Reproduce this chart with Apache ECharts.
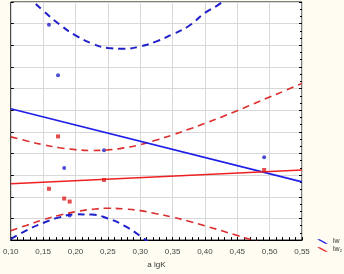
<!DOCTYPE html>
<html>
<head>
<meta charset="utf-8">
<script src="https://cdn.jsdelivr.net/npm/echarts@6/dist/echarts.min.js"></script>
<style>html,body{margin:0;padding:0;background:#fffdf2;}#c{width:344px;height:274px;}</style>
</head>
<body>
<div id="c"></div>
<script>
// observed points (x = a lgK, y in plot grid units)
const xVals = [0.159, 0.173, 0.1825, 0.191, 0.244, 0.4915];
const lwPts = [9.95, 7.62, 3.33, 1.14, 4.15, 3.83];
const lw2Pts = [2.37, 4.79, 1.92, 1.78, 2.78, 3.24];
// regression lines (end points)
const fitX = [0.10, 0.55];
const lwFit = [6.07, 2.69];
const lw2Fit = [2.60, 3.24];
// confidence bands
const bandX = [0.10,0.125,0.15,0.175,0.20,0.225,0.25,0.275,0.30,0.325,0.35,0.375,0.40,0.425,0.45,0.475,0.50,0.525,0.55];
const lwUpper = [12.10,11.32,10.60,9.97,9.46,9.09,8.88,8.84,8.95,9.18,9.51,9.89,10.50,10.96,11.64,12.40,13.15,13.90,14.74];
const lwLower = [0.05,0.46,0.79,1.05,1.19,1.18,1.00,0.67,0.19,-0.42,-1.12,-1.90,-2.70,-3.60,-4.50,-5.50,-6.50,-7.60,-8.70];
const lw2Upper = [4.77,4.58,4.41,4.27,4.18,4.14,4.17,4.26,4.41,4.62,4.86,5.12,5.39,5.68,5.98,6.29,6.61,6.92,7.24];
const lw2Lower = [0.43,0.69,0.94,1.15,1.31,1.42,1.47,1.44,1.36,1.22,1.06,0.87,0.66,0.44,0.21,-0.02,-0.26,-0.51,-0.76];
const xTitle = 'a lgK';
const names = ['lw', 'lw\u2082'];

const BLUE = '#1e1ee6', BLUE_D = '#2020c8', RED = '#ee2020', RED_D = '#dc2c2c';
const pairs = (xs, ys) => xs.map((x, i) => [x, ys[i]]);

const chart = echarts.init(document.getElementById('c'), null, {renderer: 'canvas'});
chart.setOption({
  animation: false,
  backgroundColor: '#fffdf2',
  grid: {left: 2, right: 42, top: 2, bottom: 31, show: true, backgroundColor: '#ffffff', borderColor: '#000', borderWidth: 1},
  xAxis: {
    type: 'value', min: 0.10, max: 0.55, interval: 0.05,
    name: xTitle, nameLocation: 'middle', nameGap: 18,
    nameTextStyle: {fontSize: 8, color: '#333', fontFamily: 'Liberation Sans'},
    axisLine: {lineStyle: {color: '#000'}},
    axisTick: {show: true, inside: true, length: 3, lineStyle: {color: '#000'}},
    minorTick: {show: true, splitNumber: 5, length: 3, lineStyle: {color: '#000'}},
    axisLabel: {fontSize: 8, color: '#444', margin: 8, fontFamily: 'Liberation Sans',
      alignMinLabel: 'center', alignMaxLabel: 'center',
      formatter: v => v.toFixed(2).replace('.', ',')},
    splitLine: {show: true, lineStyle: {color: '#d8d8d8', width: 1}}
  },
  yAxis: [{
    type: 'value', min: 0, max: 11, interval: 1,
    axisLabel: {show: false},
    axisLine: {show: false},
    axisTick: {show: true, inside: true, length: 3, lineStyle: {color: '#000'}},
    splitLine: {show: true, lineStyle: {color: '#d8d8d8', width: 1}}
  }, {
    type: 'value', min: 0, max: 11, interval: 1, position: 'right',
    axisLabel: {show: false},
    axisLine: {show: false},
    axisTick: {show: true, inside: true, length: 3, lineStyle: {color: '#000'}},
    minorTick: {show: true, splitNumber: 3, length: 2, lineStyle: {color: '#000'}},
    splitLine: {show: false}
  }],
  legend: {
    orient: 'vertical', left: 317, top: 238, padding: 0, itemGap: 1,
    itemWidth: 11, itemHeight: 5,
    icon: 'path://M0,0 L3,0 L12,5 L9,5 Z',
    textStyle: {fontSize: 7, color: '#333', fontFamily: 'Liberation Sans'},
    data: names
  },
  series: [
    {name: 'bu', type: 'line', data: pairs(bandX, lwUpper), smooth: true, symbol: 'none', clip: true,
      lineStyle: {color: BLUE_D, width: 2, type: [7, 5]}},
    {name: 'bl', type: 'line', data: pairs(bandX, lwLower), smooth: true, symbol: 'none', clip: true,
      lineStyle: {color: BLUE_D, width: 2, type: [7, 5]}},
    {name: 'ru', type: 'line', data: pairs(bandX, lw2Upper), smooth: true, symbol: 'none', clip: true,
      lineStyle: {color: RED_D, width: 1.6, type: [7, 5]}},
    {name: 'rl', type: 'line', data: pairs(bandX, lw2Lower), smooth: true, symbol: 'none', clip: true,
      lineStyle: {color: RED_D, width: 1.6, type: [7, 5]}},
    {name: names[0], type: 'line', data: pairs(fitX, lwFit), symbol: 'none', itemStyle: {color: BLUE},
      lineStyle: {color: BLUE, width: 1.6}},
    {name: names[1], type: 'line', data: pairs(fitX, lw2Fit), symbol: 'none', itemStyle: {color: RED},
      lineStyle: {color: RED, width: 1.6}},
    {name: 'pb', type: 'scatter', data: pairs(xVals, lwPts), symbol: 'circle', symbolSize: 4,
      itemStyle: {color: '#2020c8'}},
    {name: 'pr', type: 'scatter', data: pairs(xVals, lw2Pts), symbol: 'rect', symbolSize: 4,
      itemStyle: {color: '#e02020'}}
  ]
});
</script>
</body>
</html>
